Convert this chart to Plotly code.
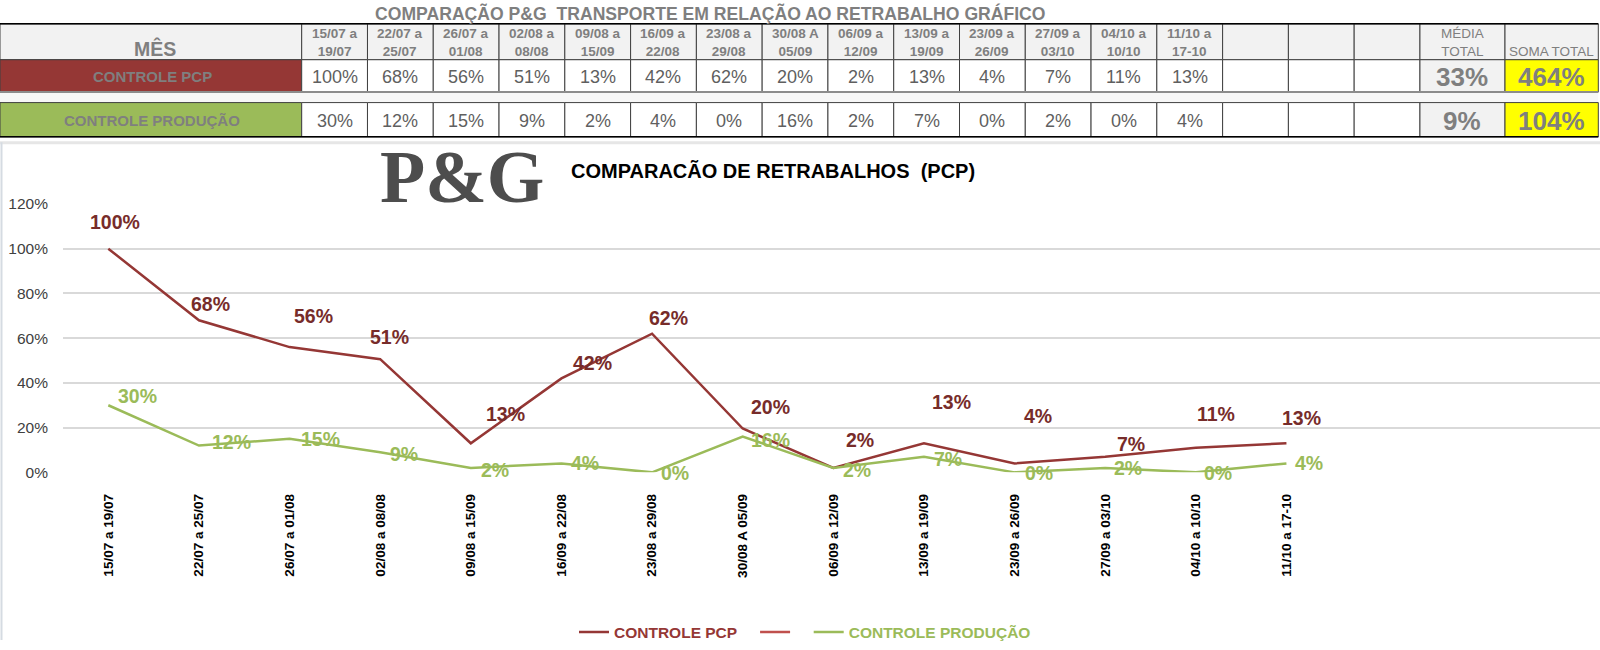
import plotly.graph_objects as go

W, H = 1600, 650

# ---------------- data ----------------
periods = ["15/07 a 19/07", "22/07 a 25/07", "26/07 a 01/08", "02/08 a 08/08",
           "09/08 a 15/09", "16/09 a 22/08", "23/08 a 29/08", "30/08 A 05/09",
           "06/09 a 12/09", "13/09 a 19/09", "23/09 a 26/09", "27/09 a 03/10",
           "04/10 a 10/10", "11/10 a 17-10"]
pcp = [1.00, 0.68, 0.56, 0.506, 0.13, 0.42, 0.62, 0.196, 0.02, 0.13, 0.04, 0.07, 0.11, 0.13]
producao = [0.30, 0.12, 0.15, 0.09, 0.02, 0.04, 0.00, 0.16, 0.02, 0.07, 0.00, 0.02, 0.00, 0.04]
series_names = ["CONTROLE PCP", "CONTROLE PRODUÇÃO"]
media_total = [0.33, 0.09]
soma_total = [4.64, 1.04]
table_title = "COMPARAÇÃO P&G \u00a0TRANSPORTE EM RELAÇÃO AO RETRABALHO GRÁFICO"
chart_title = "COMPARACÃO DE RETRABALHOS \u00a0(PCP)"
row_header = "MÊS"
media_header = "MÉDIA<br>TOTAL"
soma_header = "SOMA TOTAL"
n_empty_cols = 3

# ---------------- styles / positions ----------------
PCP_LINE = "#953735"
PCP_TEXT = "#772c2a"
PCP_EXTRA = "#C0504D"
GREEN = "#9BBB59"
GRAY_TXT = "#7f7f7f"
VAL_TXT = "#5f5f5f"
SANS = "Liberation Sans, Arial, sans-serif"
SERIF = "Liberation Serif, Times New Roman, serif"

# label offsets (pixels: right, up)
pcp_off = [(7, 26), (12, 16), (24, 30), (9, 22), (35, 29), (31, 15), (16, 15),
           (28, 21), (27, 27), (28, 40), (23, 46), (26, 12), (20, 33), (15, 25)]
prod_off = [(29, 9), (33, 3), (31, 0), (24, -2), (24, -2), (24, 0), (23, -1),
            (28, -3), (24, -2), (24, -2), (24, -1), (23, 0), (22, -1), (23, 0)]

# vertical correction for the page's rendering (measured)
V_SCALE, V_OFF = 0.974, 8.4


def px(x):
    return x / W


def py(y):
    return 1 - ((y - V_OFF) / V_SCALE) / H


fig = go.Figure()

fig.add_trace(go.Scatter(
    x=periods, y=pcp, mode="lines",
    name=f"<span style='color:{PCP_LINE}'>{series_names[0]}</span>" + "\u00a0" * 3,
    line=dict(color=PCP_LINE, width=2.5), hoverinfo="skip"))
fig.add_trace(go.Scatter(
    x=[periods[0]], y=[None], mode="lines", name="\u00a0\u00a0",
    line=dict(color=PCP_EXTRA, width=2.5), hoverinfo="skip"))
fig.add_trace(go.Scatter(
    x=periods, y=producao, mode="lines",
    name=f"<span style='color:{GREEN}'>{series_names[1]}</span>",
    line=dict(color=GREEN, width=2.5), hoverinfo="skip"))

annotations = []
shapes = []

# data labels
for i, (p, v) in enumerate(zip(periods, pcp)):
    dx, dy = pcp_off[i]
    annotations.append(dict(x=p, y=v, xref="x", yref="y", text=f"{v:.0%}",
                            showarrow=False, xshift=dx, yshift=dy / V_SCALE,
                            font=dict(family=SANS, size=19.5, color=PCP_TEXT, weight="bold")))
for i, (p, v) in enumerate(zip(periods, producao)):
    dx, dy = prod_off[i]
    annotations.append(dict(x=p, y=v, xref="x", yref="y", text=f"{v:.0%}",
                            showarrow=False, xshift=dx, yshift=dy / V_SCALE,
                            font=dict(family=SANS, size=19.5, color=GREEN, weight="bold")))

# chart title + logo
annotations.append(dict(x=px(462), y=py(177), xref="paper", yref="paper", text="P&G",
                        showarrow=False, xanchor="center", yanchor="middle",
                        font=dict(family=SERIF, size=74, color="#4d4d4d", weight="bold")))
annotations.append(dict(x=px(773), y=py(171), xref="paper", yref="paper", text=chart_title,
                        showarrow=False, xanchor="center", yanchor="middle",
                        font=dict(family=SANS, size=20, color="#000000", weight="bold")))

# ---------------- table ----------------
label_w = 301.7
col_w = 65.78
n_cols = len(periods) + n_empty_cols
col_edges = [0, label_w] + [label_w + col_w * (i + 1) for i in range(n_cols)]
col_edges += [1505, 1598.3]
hdr_top, hdr_bot = 23.3, 59.3
rows = [(59.3, 91.7), (102.3, 136.7)]
label_fill = [PCP_LINE, GREEN]
BORDER = "#404040"


def rect(x0, y0, x1, y1, fill, line_color=BORDER, lw=1):
    shapes.append(dict(type="rect", xref="paper", yref="paper",
                       x0=px(x0), x1=px(x1), y0=py(y1), y1=py(y0),
                       fillcolor=fill, line=dict(color=line_color, width=lw)))


def hline(y, x0, x1, color, width):
    shapes.append(dict(type="line", xref="paper", yref="paper", x0=px(x0), x1=px(x1),
                       y0=py(y), y1=py(y), line=dict(color=color, width=width)))


def text(x, y, t, size, color=GRAY_TXT, bold=False):
    annotations.append(dict(x=px(x), y=py(y), xref="paper", yref="paper", text=t,
                            showarrow=False, xanchor="center", yanchor="middle",
                            font=dict(family=SANS, size=size, color=color,
                                      weight="bold" if bold else "normal")))


# chart-area frame
hline(142.5, 0, W, "#e6e6e6", 3)
shapes.append(dict(type="line", xref="paper", yref="paper", x0=px(1.5), x1=px(1.5),
                   y0=0, y1=py(142), line=dict(color="#d5dbe2", width=2)))

text(710, 13, table_title, 17.6, bold=True)

# header row
for k in range(len(col_edges) - 1):
    rect(col_edges[k], hdr_top, col_edges[k + 1], hdr_bot, "#f2f2f2")
text((col_edges[0] + col_edges[1]) / 2 + 4, 48, row_header, 19.5, bold=True)
for i, p in enumerate(periods):
    a, b = col_edges[1 + i], col_edges[2 + i]
    first, second = p.rsplit(" ", 1)
    text((a + b) / 2, 42, f"{first}<br>{second}", 13.5, bold=True)
text((col_edges[-3] + col_edges[-2]) / 2, 42, media_header, 13.5)
text((col_edges[-2] + col_edges[-1]) / 2, 51, soma_header, 13.5)

# gap row
rect(0, 91.7, col_edges[-1], 102.3, "#f7f7f7", line_color="rgba(0,0,0,0)", lw=0)

# value rows
for r, (vals, (top, bot)) in enumerate(zip([pcp, producao], rows)):
    rect(col_edges[0], top, col_edges[1], bot, label_fill[r])
    text(152, (top + bot) / 2 + 1, series_names[r], 15, bold=True)
    for k in range(n_cols):
        a, b = col_edges[1 + k], col_edges[2 + k]
        rect(a, top, b, bot, "#ffffff")
        if k < len(vals):
            text((a + b) / 2, (top + bot) / 2 + 1, f"{vals[k]:.0%}", 18, color=VAL_TXT)
    a, b = col_edges[-3], col_edges[-2]
    rect(a, top, b, bot, "#f2f2f2")
    text((a + b) / 2, (top + bot) / 2 + 1, f"{media_total[r]:.0%}", 26, bold=True)
    a, b = col_edges[-2], col_edges[-1]
    rect(a, top, b, bot, "#ffff00")
    text((a + b) / 2, (top + bot) / 2 + 1, f"{soma_total[r]:.0%}", 26, bold=True)

hline(hdr_top, 0, col_edges[-1], "#000000", 1.5)
hline(91.7, 0, col_edges[-1], "#8c8c8c", 2)
hline(136.7, 0, col_edges[-1], "#000000", 1.5)

# ---------------- layout ----------------
fig.update_layout(
    width=W, height=H, autosize=False,
    margin=dict(l=0, r=0, t=0, b=0),
    paper_bgcolor="#ffffff", plot_bgcolor="#ffffff",
    showlegend=True,
    legend=dict(orientation="h", x=px(574), y=py(634), xanchor="left", yanchor="middle",
                font=dict(family=SANS, size=15.5, weight="bold", color="#953735"),
                bgcolor="rgba(0,0,0,0)", itemwidth=30),
    xaxis=dict(type="category", categoryorder="array", categoryarray=periods,
               domain=[px(63), 1], range=[-0.5, 16.46],
               showgrid=False, zeroline=False, showline=False, ticks="",
               tickangle=-90, ticklabelstandoff=18,
               tickfont=dict(family=SANS, size=13.5, color="#000000", weight="bold")),
    yaxis=dict(domain=[py(473.3), py(204)], range=[0, 1.2], dtick=0.2, tickformat=".0%",
               showgrid=True, gridcolor="#d9d9d9", gridwidth=1.5, zeroline=False,
               showline=False, ticks="", ticklabelstandoff=14,
               tickfont=dict(family=SANS, size=15.5, color="#404040")),
    annotations=annotations,
    shapes=shapes,
    hovermode=False,
)

fig.write_html("out.html")
